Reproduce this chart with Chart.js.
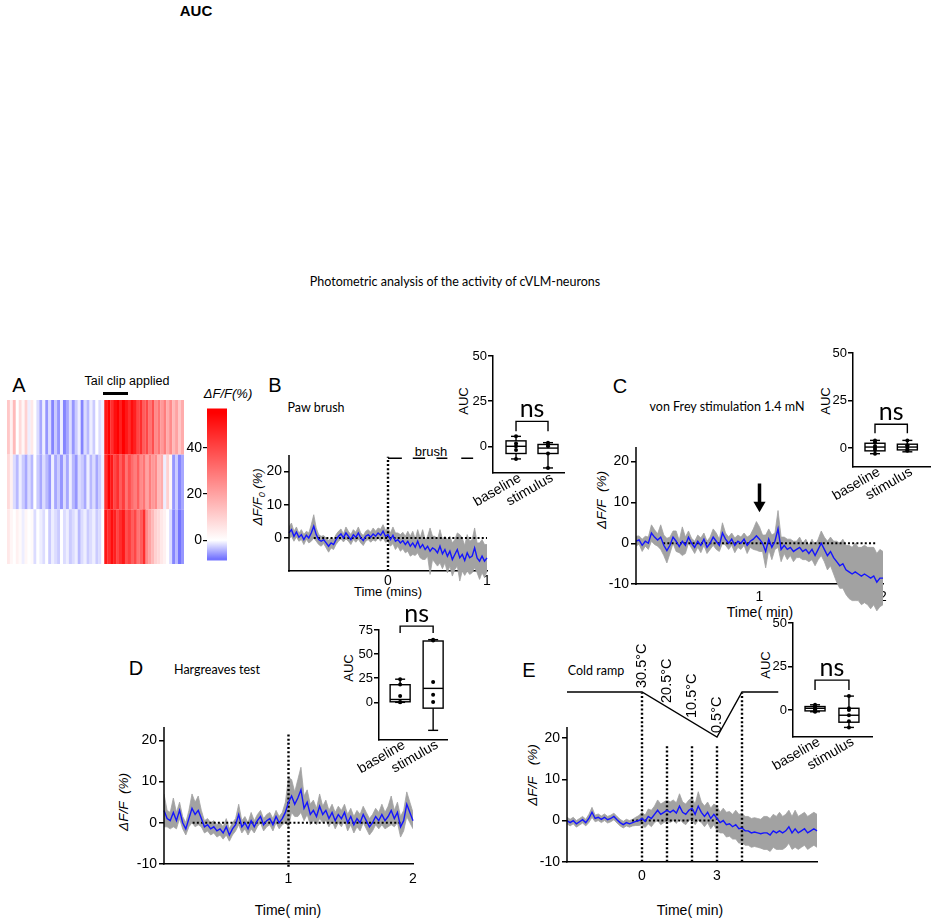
<!DOCTYPE html>
<html>
<head>
<meta charset="utf-8">
<script src="https://cdn.jsdelivr.net/npm/chart.js@4.4.1/dist/chart.umd.min.js"></script>
<style>
body { margin: 0; background: #fff; }
#fig { position: relative; width: 936px; height: 921px; overflow: hidden; font-family: "Liberation Sans", Arial, sans-serif; color: #000; }
#fig canvas { position: absolute; }
.t { position: absolute; transform: translate(-50%, -50%); white-space: nowrap; line-height: 1; }
.r { transform: translate(-50%, -50%) rotate(-90deg); }
.lato { font-family: Lato, "Open Sans", sans-serif; }
.i { font-style: italic; }
</style>
</head>
<body>
<div id="fig">
  <div class="t" style="left:196px;top:10px;font-size:15px;font-weight:bold">AUC</div>
  <div class="t lato" style="left:455px;top:282px;font-size:12.5px">Photometric analysis of the activity of cVLM-neurons</div>

  <div class="t" style="left:19px;top:385px;font-size:20px">A</div>
  <div class="t" style="left:127px;top:381px;font-size:12.5px">Tail clip applied</div>
  <div style="position:absolute;left:103px;top:392px;width:25px;height:2.5px;background:#000"></div>
  <div class="t i" style="left:228px;top:393px;font-size:13px">ΔF/F(%)</div>

  <div class="t" style="left:275px;top:385px;font-size:20px">B</div>
  <div class="t lato" style="left:316px;top:408px;font-size:12.5px">Paw brush</div>
  <div class="t" style="left:431px;top:451px;font-size:13px">brush</div>
  <div class="t r i" style="left:259px;top:497px;font-size:13px">ΔF/F<sub style="font-size:9px">0</sub> (%)</div>
  <div class="t" style="left:388px;top:591px;font-size:13px">Time (mins)</div>
  <div class="t r" style="left:463px;top:401px;font-size:13px">AUC</div>

  <div class="t" style="left:620px;top:386px;font-size:20px">C</div>
  <div class="t lato" style="left:727px;top:407px;font-size:12.5px">von Frey stimulation 1.4 mN</div>
  <div class="t r i" style="left:602px;top:500px;font-size:13.5px">ΔF/F&nbsp;&nbsp;(%)</div>
  <div class="t" style="left:760px;top:612px;font-size:14px">Time( min)</div>
  <div class="t r" style="left:825px;top:401px;font-size:13px">AUC</div>

  <div class="t" style="left:136px;top:668px;font-size:20px">D</div>
  <div class="t lato" style="left:217px;top:670px;font-size:12.5px">Hargreaves test</div>
  <div class="t r i" style="left:124px;top:802px;font-size:13.5px">ΔF/F&nbsp;&nbsp;(%)</div>
  <div class="t" style="left:288px;top:910px;font-size:14px">Time( min)</div>
  <div class="t r" style="left:348px;top:668px;font-size:13px">AUC</div>

  <div class="t" style="left:529px;top:670px;font-size:20px">E</div>
  <div class="t lato" style="left:596px;top:671px;font-size:12.5px">Cold ramp</div>
  <div class="t r i" style="left:533px;top:775px;font-size:13.5px">ΔF/F&nbsp;&nbsp;&nbsp;(%)</div>
  <div class="t" style="left:690px;top:910px;font-size:14px">Time( min)</div>
  <div class="t r" style="left:765px;top:665px;font-size:13px">AUC</div>
</div>
<script>
// ---- A: heat map (dF/F %, one row per animal, columns in time order) ----
const heatRow1 = [12, 3, 15, 0, 8, 2, 10, -1, 5, 0, -2,
  -5, -1, -6, -2, -7, -3, -6, -1, -7, -5, -2, -6, -3, -1, -7, -2, -4, -1, -3, 0, -2, -1,
  50, 55, 45, 52, 55, 48, 55, 50, 45, 52, 48, 40, 45, 35, 40, 30, 38, 25, 30, 22, 28, 18, 25, 15, 20, 12, 18];
const heatRow2 = [8, 3, -2, -4, -1, -3, -5, -2, -4, 0, -3,
  -5, -2, -4, -6, -1, -5, -3, -6, -2, -5, -1, -4, -6, -2, -3, -5, -1, -4, -2, -5, -3, -1,
  45, 55, 50, 40, 45, 35, 42, 30, 38, 32, 28, 35, 25, 30, 20, 28, 22, 25, 15, 18, -1, 10, 2, -6, -3, -7, -5];
const heatRow3 = [5, 2, 0, 3, 1, -1, 2, 0, 1, -2, 0,
  -1, -2, 0, -3, -1, -2, -3, 0, -2, -1, -3, -2, -1, -4, -2, -1, -3, -2, -1, -3, -2, 0,
  50, 45, 52, 48, 40, 45, 50, 38, 42, 35, 40, 30, 35, 45, 25, 20, 15, 10, 8, 5, 3, 0, -2, -7, -4, -8, -6];
const heatMin = -8;
const heatMax = 55;
const cbRange = [-8.8, 57];
const cbTicks = [0, 20, 40];

// ---- B: paw brush ----
const bRange = [-1, 1];
const bMean = [1.5, 2.5, 0.5, 1.8, 0.2, 1.0, -0.5, 0.8, 0.0, 1.5,
  3.5, 1.0, -0.5, -1.0, -0.5, -1.5, -2.5, -1.5, -2.0, -0.5,
  0.5, 1.2, 0.0, 1.5, 0.5, -0.5, 1.0, 0.2, 1.5, 0.0,
  -0.8, 0.5, 1.0, 0.2, 1.2, 0.5, 1.5, 0.8, 2.0, 0.5,
  1.0, -0.5, 0.8, -1.0, -0.5, -1.5, -0.8, -2.0, -1.0, -2.5,
  -1.5, -2.8, -1.0, -3.0, -2.0, -3.5, -2.5, -4.0, -3.0, -3.5,
  -4.5, -2.5, -4.8, -3.5, -5.5, -4.0, -6.5, -5.0, -3.5, -6.0,
  -5.0, -6.8, -4.5, -6.0, -5.5, -3.0, -6.0, -7.0, -5.5, -7.0,
  -6.0];
const bSem = [1.8, 2.0, 1.5, 1.5, 1.2, 1.5, 1.5, 1.2, 1.5, 2.5,
  3.5, 2.0, 1.5, 1.5, 1.2, 1.5, 1.8, 1.5, 1.5, 1.5,
  1.5, 1.5, 1.2, 1.8, 1.5, 1.5, 1.5, 1.5, 1.8, 1.5,
  1.5, 1.5, 1.5, 1.5, 1.8, 1.5, 1.5, 1.8, 2.0, 1.8,
  2.0, 2.0, 2.5, 2.5, 2.0, 2.5, 2.5, 2.5, 3.0, 3.0,
  3.5, 2.5, 3.5, 3.0, 4.5, 3.0, 3.0, 7.0, 3.5, 4.0,
  4.0, 5.0, 4.5, 4.0, 5.0, 4.5, 5.0, 4.5, 5.0, 7.0,
  5.0, 4.5, 5.5, 5.0, 5.0, 6.0, 4.5, 5.5, 5.0, 5.0,
  4.0];
const bTicksX = [0, 1];
const bTicksY = [0, 10, 20];
const brushStarts = [0, 0.25, 0.49, 0.74];
const brushEnds = [0.14, 0.375, 0.6, 0.86];
const brushLevel = 24;

// ---- C: von Frey ----
const cRange = [0, 2];
const cMean = [0.5, 0.8, -0.5, 0.5, 0.0, 2.5, 1.5, 0.8, 1.5, -0.5,
  -1.8, -0.5, 1.5, 0.5, -0.8, 0.5, -0.5, 1.5, 0.0, -1.0,
  0.5, -0.5, 1.0, -1.0, 0.0, 1.5, 0.5, -0.5, 2.5, 1.0,
  0.0, 1.0, -0.5, 0.5, 0.0, 1.0, -0.5, 0.5, 1.0, 1.8,
  1.0, 0.0, -2.0, 1.0, -1.0, 0.5, 3.5, -1.5, -0.5, -1.5,
  -1.0, -2.0, -1.5, -1.0, -2.0, -1.5, -2.5, -1.5, -3.0, -1.5,
  0.0, -1.5, -3.0, -2.0, -3.5, -4.5, -5.5, -5.0, -6.5, -7.0,
  -7.5, -7.0, -7.5, -8.0, -7.5, -8.0, -8.5, -8.0, -9.5, -8.5,
  -8.5];
const cSem = [1.2, 1.0, 1.5, 1.2, 1.5, 2.0, 1.8, 1.5, 3.0, 2.5,
  3.0, 2.0, 1.5, 2.5, 1.5, 3.5, 2.0, 1.5, 1.2, 1.5,
  1.5, 1.8, 1.5, 1.5, 1.5, 2.0, 2.0, 1.5, 2.5, 1.5,
  1.5, 1.5, 1.8, 1.5, 1.5, 1.5, 2.0, 1.5, 2.5, 3.5,
  3.0, 2.0, 4.0, 2.5, 3.0, 2.0, 4.5, 3.0, 2.0, 2.5,
  2.0, 2.5, 2.0, 2.5, 2.0, 2.5, 2.0, 2.5, 2.5, 2.5,
  3.0, 3.0, 3.5, 3.5, 4.0, 5.0, 5.5, 6.0, 6.0, 6.5,
  6.5, 7.0, 6.5, 7.0, 7.0, 7.0, 7.5, 7.0, 7.0, 7.0,
  6.5];
const cTicksX = [1, 2];
const cTicksY = [-10, 0, 10, 20];
const cArrow = [14.6, 9.3];

// ---- D: Hargreaves ----
const dRange = [0, 2];
const dMean = [3.0, 1.0, 0.5, 2.5, 0.5, 3.0, 0.0, -1.5, 1.0, 3.5,
  2.0, 3.0, 1.0, -1.0, -0.5, -1.5, -1.0, -2.0, -1.5, -2.5,
  -1.0, -3.0, -1.5, -0.5, 2.0, -1.0, 0.0, -1.5, 0.5, -1.0,
  0.5, 1.5, -0.5, 0.5, 1.0, -0.5, 1.5, 0.0, 1.0, 2.5,
  5.0, 6.5, 4.5, 6.0, 8.0, 3.5, 5.0, 2.0, 3.0, 1.5,
  4.0, 2.0, 3.0, 1.0, 2.5, 0.5, 2.0, 1.0, 2.5, 0.0,
  1.5, -0.5, 1.0, 0.0, 2.0, 0.5, -1.0, 0.0, 1.5, 0.5,
  2.0, 0.5, 1.5, 3.0, 1.0, 2.5, -1.0, 0.5, 4.5, 2.5,
  0.5];
const dSem = [4.0, 2.0, 2.0, 3.5, 2.0, 2.0, 1.5, 1.5, 2.0, 3.5,
  3.0, 3.5, 2.0, 1.5, 1.5, 1.5, 1.5, 1.5, 1.5, 1.5,
  2.0, 1.5, 1.5, 1.5, 2.5, 1.5, 1.5, 1.5, 2.0, 1.5,
  1.5, 1.5, 1.5, 1.5, 1.5, 1.5, 1.5, 1.5, 1.5, 2.5,
  6.0, 4.0, 3.0, 4.5, 5.5, 3.0, 3.0, 2.5, 2.5, 2.0,
  3.0, 2.0, 2.5, 2.0, 2.0, 2.0, 2.0, 2.0, 2.0, 2.0,
  2.0, 2.0, 2.0, 2.0, 2.0, 2.0, 2.0, 2.0, 2.0, 2.0,
  2.5, 2.0, 2.5, 3.5, 2.0, 2.5, 2.5, 2.5, 3.0, 2.5,
  2.0];
const dTicksX = [1, 2];
const dTicksY = [-10, 0, 10, 20];

// ---- E: cold ramp ----
const eRange = [-3, 7];
const eMean = [0.0, -0.5, 0.0, -0.8, -0.3, 0.2, -0.5, 0.5, 2.0, 0.5,
  0.8, 0.3, 0.8, 0.2, 0.5, 1.0, 0.2, -0.5, -1.0, -0.5,
  -0.8, -0.5, -0.2, 0.0, 0.5, -0.2, 1.0, 0.5, 1.5, 2.5,
  1.5, 2.0, 2.5, 2.0, 2.5, 1.8, 3.5, 2.0, 1.5, 2.5,
  3.0, 1.5, 3.5, 2.0, 1.0, 2.0, 0.5, 1.5, 0.5, -0.5,
  0.0, -1.0, -0.8, -1.5, -1.0, -2.0, -1.8, -2.5, -2.5, -3.0,
  -2.8, -3.0, -3.2, -3.0, -3.0, -3.5, -2.5, -3.0, -2.5, -3.0,
  -2.5, -1.5, -3.0, -2.0, -3.0, -2.5, -2.0, -3.0, -2.5, -2.0,
  -2.5];
const eSem = [0.8, 0.8, 0.8, 0.8, 0.8, 0.8, 0.8, 1.0, 1.2, 0.8,
  0.8, 0.8, 0.8, 0.8, 0.8, 0.8, 0.8, 0.8, 0.8, 0.8,
  0.8, 0.8, 1.0, 1.2, 1.5, 1.5, 1.8, 2.0, 2.0, 2.5,
  2.5, 2.5, 2.5, 2.5, 2.5, 2.5, 3.0, 2.5, 2.5, 2.5,
  2.5, 2.5, 3.5, 2.5, 2.5, 2.5, 2.5, 2.5, 3.0, 2.5,
  3.0, 3.0, 3.0, 3.0, 3.5, 3.5, 3.5, 3.5, 3.5, 3.5,
  3.5, 3.5, 3.5, 4.0, 4.0, 4.0, 4.0, 4.0, 4.5, 4.0,
  4.0, 4.0, 4.0, 4.5, 4.0, 4.0, 4.0, 4.0, 4.0, 4.0,
  4.0];
const eTicksX = [0, 3];
const eTicksY = [-10, 0, 10, 20];
const eMarkTimes = [0, 1, 2, 3, 4];
const eMarkTops = [31, 18, 18, 18, 31];
const rampTimes = [-3, 0, 3, 4, 5.45];
const rampTemps = [30.5, 30.5, 0.5, 30.5, 30.5];
const rampLabelTimes = [0, 1, 2, 3];
const rampLabelTemps = [30.5, 20.5, 10.5, 0.5];
const rampLabels = ['30.5°C', '20.5°C', '10.5°C', '0.5°C'];

// ---- AUC insets: [min, q1, median, q3, max] per group ----
const aucLabels = ['baseline', 'stimulus'];
const bAucBoxes = [[-7, -4, 0, 3, 5.5], [-12, -4, -1, 1, 2]];
const bAucPoints = [[5.5, 1.5, 0, -2, -7], [2, 1, 0, -4, -12]];
const cAucBoxes = [[-3, -1.5, 0.5, 2.5, 4], [-2, -1, 0.5, 2, 4]];
const cAucPoints = [[4, 3, 1, 0, -1, -3], [4, 1.5, 1, 0, -1, -1.5]];
const dAucBoxes = [[0, 0.6, 3, 18.3, 24], [-29, -6, 14.5, 63.6, 65]];
const dAucPoints = [[24, 18.5, 6.5, 0.5, 0], [65, 64, 21, 8, 0.5]];
const eAucBoxes = [[-1, -0.5, 1, 2, 3], [-10, -7, -3, 1, 8]];
const eAucPoints = [[3, 2, 1, 0.5, -0.5, -1], [8, 1, 0, -3, -6.5, -10]];

Chart.defaults.font.family = '"Liberation Sans", Arial, sans-serif';
Chart.defaults.color = '#000';

const fig = document.getElementById('fig');

function makeCanvas(area, m) {
  const c = document.createElement('canvas');
  const w = Math.round(area.r - area.l + m.l + m.r);
  const h = Math.round(area.b - area.t + m.t + m.b);
  c.width = w;
  c.height = h;
  c.style.left = (area.l - m.l) + 'px';
  c.style.top = (area.t - m.t) + 'px';
  c.style.width = w + 'px';
  c.style.height = h + 'px';
  fig.appendChild(c);
  return c;
}

function common() {
  return {
    responsive: false,
    animation: false,
    devicePixelRatio: 1,
    plugins: { legend: { display: false }, tooltip: { enabled: false } }
  };
}

function heatColor(v) {
  if (v >= 0) {
    const k = Math.min(v / heatMax, 1);
    const g = Math.round(255 * (1 - k));
    return `rgb(255,${g},${g})`;
  }
  const k = Math.min(v / heatMin, 1);
  const c = Math.round(255 - k * 140);
  return `rgb(${c},${c},255)`;
}

// heat map
(function () {
  const area = { l: 7, r: 184, t: 400, b: 564 };
  const m = { l: 2, t: 2, r: 2, b: 2 };
  const c = makeCanvas(area, m);
  const rows = [heatRow3, heatRow2, heatRow1];
  const opts = common();
  opts.layout = { padding: { left: m.l, top: m.t, right: m.r, bottom: m.b } };
  opts.scales = {
    x: { display: false, stacked: true },
    y: { display: false, stacked: true, min: 0, max: rows.length }
  };
  new Chart(c, {
    type: 'bar',
    data: {
      labels: heatRow1.map((_, i) => i),
      datasets: rows.map(row => ({
        data: row.map(() => 1),
        backgroundColor: row.map(heatColor),
        borderWidth: 0,
        barPercentage: 1.06,
        categoryPercentage: 1
      }))
    },
    options: opts
  });
})();

// colour bar
(function () {
  const area = { l: 207, r: 227, t: 405, b: 564 };
  const m = { l: 30, t: 6, r: 4, b: 6 };
  const c = makeCanvas(area, m);
  const opts = common();
  opts.layout = { padding: { left: 0, top: m.t, right: m.r, bottom: m.b } };
  opts.scales = {
    x: { display: false },
    y: {
      min: cbRange[0], max: cbRange[1],
      afterFit: s => { s.width = m.l; },
      afterBuildTicks: s => { s.ticks = cbTicks.map(v => ({ value: v })); },
      border: { display: false },
      grid: { drawOnChartArea: false, color: '#000', lineWidth: 1.2, tickLength: 4 },
      ticks: { font: { size: 14 }, padding: 1 }
    }
  };
  new Chart(c, {
    type: 'bar',
    data: {
      labels: [''],
      datasets: [{
        data: [cbRange],
        borderWidth: 0,
        barPercentage: 1,
        categoryPercentage: 1,
        backgroundColor: ctx => {
          const ch = ctx.chart;
          const ys = ch.scales.y;
          if (!ys || !ch.chartArea) return '#fff';
          const y0 = ys.getPixelForValue(cbRange[0]);
          const y1 = ys.getPixelForValue(cbRange[1]);
          const g = ch.ctx.createLinearGradient(0, y0, 0, y1);
          [cbRange[0], heatMin, 0, heatMax, cbRange[1]].forEach(v => {
            g.addColorStop((v - cbRange[0]) / (cbRange[1] - cbRange[0]), heatColor(v));
          });
          return g;
        }
      }]
    },
    options: opts
  });
})();

function axisLinePlugin(from, to) {
  return {
    id: 'axisLine',
    afterDraw(chart) {
      const { ctx, chartArea } = chart;
      const ys = chart.scales.y;
      ctx.save();
      ctx.strokeStyle = '#000';
      ctx.lineWidth = 1.5;
      ctx.beginPath();
      ctx.moveTo(chartArea.left, ys.getPixelForValue(from) + 0.75);
      ctx.lineTo(chartArea.left, ys.getPixelForValue(to));
      ctx.stroke();
      ctx.restore();
    }
  };
}

function timeAxis(range, n) {
  return Array.from({ length: n }, (_, i) => range[0] + i * (range[1] - range[0]) / (n - 1));
}

function xy(xs, ys) {
  return xs.map((x, i) => ({ x: x, y: ys[i] }));
}

function dotted(points, width) {
  return { data: points, borderColor: '#000', borderWidth: width || 2.4, borderDash: [2, 2.2] };
}

function traceChart(o) {
  const pxu = (o.axisY - o.top) / (o.yMax + 10);
  const area = { l: o.left, r: o.right, t: o.top, b: Math.round(o.axisY + (-10 - o.yMin) * pxu) };
  const m = o.m;
  const c = makeCanvas(area, m);
  const t = timeAxis(o.range, o.mean.length);
  const upper = o.mean.map((v, i) => v + o.sem[i]);
  const lower = o.mean.map((v, i) => v - o.sem[i]);
  const datasets = [
    { data: xy(t, o.mean), borderColor: '#1414ff', borderWidth: 1.4, pointRadius: 0, order: 0, clip: false, fill: false }
  ];
  o.extra.forEach(e => datasets.push(Object.assign({ pointRadius: 0, order: 1, clip: false, fill: false, spanGaps: false }, e)));
  datasets.push({ data: xy(t, upper), borderColor: '#a2a2a2', backgroundColor: '#a2a2a2', borderWidth: 0.8, pointRadius: 0, fill: '+1', order: 2 });
  datasets.push({ data: xy(t, lower), borderColor: '#a2a2a2', borderWidth: 0.8, pointRadius: 0, fill: false, order: 3 });

  const opts = common();
  opts.layout = { padding: { left: 0, top: m.t, right: m.r, bottom: m.b } };
  opts.scales = {
    x: {
      type: 'linear', min: o.range[0], max: o.range[1], position: { y: -10 },
      afterBuildTicks: s => { s.ticks = o.xTicks.map(v => ({ value: v })); },
      grid: { display: false, drawTicks: false },
      border: { color: '#000', width: 1.5 },
      ticks: { font: { size: 14 }, padding: o.xPad, maxRotation: 0, autoSkip: false, callback: v => String(v) }
    },
    y: {
      min: o.yMin, max: o.yMax,
      afterFit: s => { s.width = m.l; },
      afterBuildTicks: s => { s.ticks = o.yTicks.map(v => ({ value: v })); },
      border: { display: false },
      grid: { drawOnChartArea: false, color: '#000', lineWidth: 1.5, tickLength: 5 },
      ticks: { font: { size: 14 }, padding: 2, autoSkip: false }
    }
  };
  return new Chart(c, {
    type: 'line',
    data: { datasets: datasets },
    options: opts,
    plugins: [axisLinePlugin(-10, o.yMax)]
  });
}

function boxPlugin(stats, bracket) {
  return {
    id: 'boxes',
    beforeDatasetsDraw(chart) {
      const { ctx } = chart;
      const xs = chart.scales.x, ys = chart.scales.y;
      const seg = (x1, y1, x2, y2) => { ctx.beginPath(); ctx.moveTo(x1, y1); ctx.lineTo(x2, y2); ctx.stroke(); };
      ctx.save();
      ctx.strokeStyle = '#000';
      ctx.lineWidth = 1.4;
      const bw = 20, cw = 10;
      stats.forEach((s, i) => {
        const x = xs.getPixelForValue(i);
        const [mn, q1, md, q3, mx] = s.map(v => ys.getPixelForValue(v));
        ctx.strokeRect(x - bw / 2, q3, bw, q1 - q3);
        seg(x - bw / 2, md, x + bw / 2, md);
        seg(x, q3, x, mx);
        seg(x, q1, x, mn);
        seg(x - cw / 2, mx, x + cw / 2, mx);
        seg(x - cw / 2, mn, x + cw / 2, mn);
      });
      const x0 = xs.getPixelForValue(0), x1 = xs.getPixelForValue(1);
      const yb = ys.getPixelForValue(bracket[0]), yd = ys.getPixelForValue(bracket[1]);
      ctx.beginPath();
      ctx.moveTo(x0, yd); ctx.lineTo(x0, yb); ctx.lineTo(x1, yb); ctx.lineTo(x1, yd);
      ctx.stroke();
      ctx.fillStyle = '#000';
      ctx.font = '25px Lato, "Open Sans", sans-serif';
      ctx.textAlign = 'center';
      ctx.textBaseline = 'alphabetic';
      ctx.fillText('ns', (x0 + x1) / 2, yb - 4);
      ctx.restore();
    },
    afterDraw(chart) {
      // slanted group labels under the x axis
      const { ctx } = chart;
      const xs = chart.scales.x;
      const axisY = chart.chartArea.bottom;
      ctx.save();
      ctx.fillStyle = '#000';
      ctx.font = '14px "Liberation Sans", Arial, sans-serif';
      ctx.textAlign = 'right';
      ctx.textBaseline = 'middle';
      aucLabels.forEach((lab, i) => {
        ctx.save();
        ctx.translate(xs.getPixelForValue(i) + 4, axisY + 4);
        ctx.rotate(-Math.PI / 6);
        ctx.fillText(lab, 0, 0);
        ctx.restore();
      });
      ctx.restore();
    }
  };
}

function aucChart(o) {
  const m = o.m;
  const c = makeCanvas(o.area, m);
  const pts = [];
  o.points.forEach((arr, i) => arr.forEach(v => pts.push({ x: i, y: v })));
  const opts = common();
  opts.layout = { padding: { left: 0, top: m.t, right: m.r, bottom: 0 } };
  opts.scales = {
    x: {
      type: 'linear', min: o.xMin, max: o.xMax,
      afterFit: s => { s.height = m.b; },
      afterBuildTicks: s => { s.ticks = aucLabels.map((_, i) => ({ value: i })); },
      grid: { display: false, drawTicks: false },
      border: { color: '#000', width: 1.5 },
      ticks: { display: false }
    },
    y: {
      min: o.yMin, max: o.yMax,
      afterFit: s => { s.width = m.l; },
      afterBuildTicks: s => { s.ticks = o.yTicks.map(v => ({ value: v })); },
      border: { color: '#000', width: 1.5 },
      grid: { drawOnChartArea: false, color: '#000', lineWidth: 1.5, tickLength: 5 },
      ticks: { font: { size: 13 }, padding: 1, autoSkip: false }
    }
  };
  new Chart(c, {
    type: 'scatter',
    data: { datasets: [{ data: pts, pointRadius: 2, backgroundColor: '#000', borderWidth: 0, clip: false }] },
    options: opts,
    plugins: [boxPlugin(o.boxes, o.bracket)]
  });
}

// B
traceChart({
  left: 289, right: 487, top: 455, axisY: 571, yMax: 25, yMin: -16,
  m: { l: 40, t: 25, r: 12, b: 20 }, range: bRange, mean: bMean, sem: bSem,
  xTicks: bTicksX, yTicks: bTicksY, xPad: 2,
  extra: [
    dotted([{ x: -0.75, y: 0 }, { x: bRange[1], y: 0 }], 2),
    dotted([{ x: 0, y: -10 }, { x: 0, y: 24.5 }]),
    { data: brushStarts.flatMap((s, i) => [{ x: s, y: brushLevel }, { x: brushEnds[i], y: brushLevel }, { x: brushEnds[i], y: null }]),
      borderColor: '#000', borderWidth: 1.4 }
  ]
});

// C
traceChart({
  left: 636, right: 883, top: 447, axisY: 584, yMax: 23.5, yMin: -18,
  m: { l: 42, t: 20, r: 12, b: 20 }, range: cRange, mean: cMean, sem: cSem,
  xTicks: cTicksX, yTicks: cTicksY, xPad: 5,
  extra: [
    dotted([{ x: 0.22, y: 0 }, { x: 1.95, y: 0 }], 2),
    { data: [{ x: 1, y: cArrow[0] }, { x: 1, y: cArrow[1] }], borderColor: '#000', borderWidth: 3.5,
      pointRadius: [0, 7], pointStyle: 'triangle', pointRotation: 180,
      pointBackgroundColor: '#000', pointBorderColor: '#000', pointBorderWidth: 0 }
  ]
});

// D
traceChart({
  left: 164, right: 413, top: 727, axisY: 864, yMax: 23.3, yMin: -12,
  m: { l: 42, t: 20, r: 12, b: 25 }, range: dRange, mean: dMean, sem: dSem,
  xTicks: dTicksX, yTicks: dTicksY, xPad: 7,
  extra: [
    dotted([{ x: 0.23, y: 0 }, { x: 1.9, y: 0 }], 2),
    dotted([{ x: 1, y: -10.7 }, { x: 1, y: 22 }])
  ]
});

// E
traceChart({
  left: 567, right: 817, top: 727, axisY: 862, yMax: 22.7, yMin: -12,
  m: { l: 42, t: 45, r: 12, b: 25 }, range: eRange, mean: eMean, sem: eSem,
  xTicks: eTicksX, yTicks: eTicksY, xPad: 6,
  extra: [dotted([{ x: -0.4, y: 0 }, { x: 2.9, y: 0 }], 2)].concat(
    eMarkTimes.map((tm, i) => dotted([{ x: tm, y: -10 }, { x: tm, y: eMarkTops[i] }])))
});

// E temperature ramp
(function () {
  const area = { l: 567, r: 817, t: 692, b: 737 };
  const m = { l: 4, t: 50, r: 4, b: 4 };
  const c = makeCanvas(area, m);
  const opts = common();
  opts.layout = { padding: { left: m.l, top: m.t, right: m.r, bottom: m.b } };
  opts.scales = {
    x: { type: 'linear', display: false, min: eRange[0], max: eRange[1] },
    y: { display: false, min: 0.5, max: 30.5 }
  };
  const labelPlugin = {
    id: 'rampLabels',
    afterDatasetsDraw(chart) {
      const { ctx } = chart;
      const xs = chart.scales.x, ys = chart.scales.y;
      ctx.save();
      ctx.fillStyle = '#000';
      ctx.font = '14.5px "Liberation Sans", Arial, sans-serif';
      ctx.textAlign = 'left';
      ctx.textBaseline = 'middle';
      rampLabels.forEach((txt, i) => {
        ctx.save();
        ctx.translate(xs.getPixelForValue(rampLabelTimes[i]), ys.getPixelForValue(rampLabelTemps[i]) - 4);
        ctx.rotate(-Math.PI / 2);
        ctx.fillText(txt, 0, 0);
        ctx.restore();
      });
      ctx.restore();
    }
  };
  new Chart(c, {
    type: 'line',
    data: { datasets: [{ data: xy(rampTimes, rampTemps), borderColor: '#000', borderWidth: 1.4, pointRadius: 0, clip: false, tension: 0 }] },
    options: opts,
    plugins: [labelPlugin]
  });
})();

// AUC insets
aucChart({ area: { l: 493, r: 564, t: 356, b: 473 }, m: { l: 36, t: 10, r: 6, b: 50 },
  xMin: -0.72, xMax: 1.5, yMin: -14.8, yMax: 50, yTicks: [0, 25, 50],
  boxes: bAucBoxes, points: bAucPoints, bracket: [13.8, 8.3] });
aucChart({ area: { l: 853, r: 930, t: 353, b: 467 }, m: { l: 36, t: 10, r: 5, b: 50 },
  xMin: -0.68, xMax: 1.7, yMin: -10, yMax: 50, yTicks: [0, 25, 50],
  boxes: cAucBoxes, points: cAucPoints, bracket: [12.5, 7.7] });
aucChart({ area: { l: 379, r: 447, t: 630, b: 740 }, m: { l: 36, t: 30, r: 6, b: 50 },
  xMin: -0.64, xMax: 1.42, yMin: -39, yMax: 75, yTicks: [0, 25, 50, 75],
  boxes: dAucBoxes, points: dAucPoints, bracket: [79, 72] });
aucChart({ area: { l: 793, r: 872, t: 623, b: 737 }, m: { l: 36, t: 10, r: 6, b: 50 },
  xMin: -0.65, xMax: 1.68, yMin: -15.5, yMax: 50, yTicks: [0, 25, 50],
  boxes: eAucBoxes, points: eAucPoints, bracket: [17.2, 11.5] });
</script>
</body>
</html>
